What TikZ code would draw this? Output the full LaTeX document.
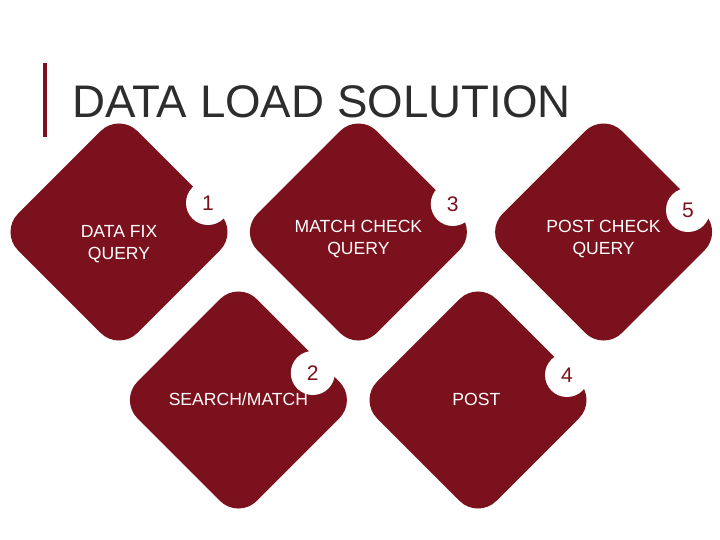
\documentclass[tikz,border=0pt]{standalone}
\usepackage{fontspec}
\setmainfont{Liberation Sans}
\usetikzlibrary{shapes.geometric}
\definecolor{wine}{RGB}{123,17,29}
\definecolor{ink}{RGB}{45,45,45}
\tikzset{
  tile/.style={diamond, fill=wine, minimum size=5.97cm, inner sep=0pt, rounded corners=0.65cm},
  badge/.style={circle, fill=white, minimum size=1.1cm, inner sep=0pt, text=wine, font=\fontsize{15}{15}\selectfont},
  caption/.style={text=white, align=center, font=\fontsize{12.5}{15.5}\selectfont}
}
\begin{document}
\begin{tikzpicture}
\useasboundingbox (0,0) rectangle (18,-13.5);

% title
\fill[wine] (1.075,-1.575) rectangle (1.175,-3.425);
\node[anchor=base west, inner sep=0pt, text=ink, font=\fontsize{32.5}{32.5}\selectfont] (title) at (1.8,-2.925) {DATA LOAD SOLUTION};

% tiles
\node[tile] (d1) at (2.975,-5.8) {};
\node[tile] (d3) at (8.96,-5.8) {};
\node[tile] (d5) at (15.09,-5.8) {};
\node[tile] (d2) at (5.96,-10.0) {};
\node[tile] (d4) at (11.95,-10.0) {};

% numbers
\node[badge] (n1) at ([shift={(2.225,0.725)}]d1.center) {1};
\node[badge] (n3) at ([shift={(2.36,0.7)}]d3.center) {3};
\node[badge] (n5) at ([shift={(2.11,0.55)}]d5.center) {5};
\node[badge] (n2) at ([shift={(1.86,0.675)}]d2.center) {2};
\node[badge] (n4) at ([shift={(2.225,0.625)}]d4.center) {4};

% labels
\node[caption] (t1) at ([yshift=-0.3cm]d1.center) {DATA FIX\\QUERY};
\node[caption] (t3) at ([yshift=-0.17cm]d3.center) {MATCH CHECK\\QUERY};
\node[caption] (t5) at ([yshift=-0.17cm]d5.center) {POST CHECK\\QUERY};
\node[caption] (t2) at ([yshift=0.025cm]d2.center) {SEARCH/MATCH};
\node[caption] (t4) at ([xshift=-0.04cm,yshift=0.025cm]d4.center) {POST};
\end{tikzpicture}
\end{document}
